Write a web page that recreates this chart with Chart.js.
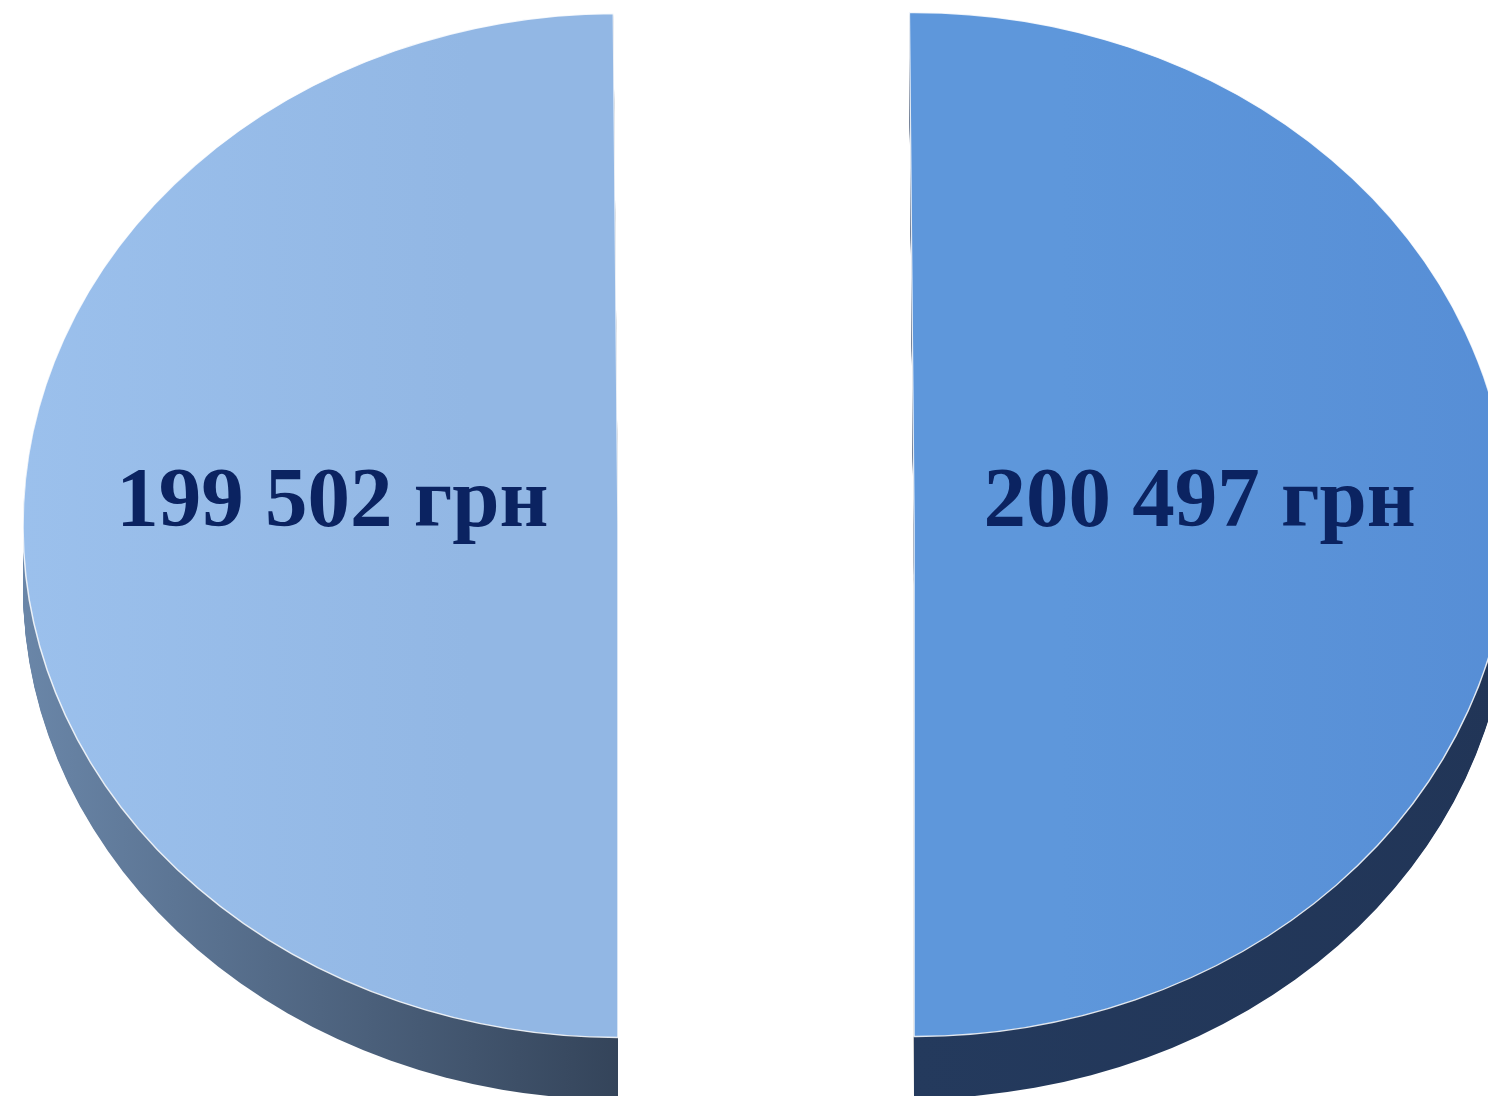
<!DOCTYPE html>
<html>
<head>
<meta charset="utf-8">
<script src="https://cdn.jsdelivr.net/npm/chart.js@4/dist/chart.umd.min.js"></script>
<style>
  html, body { margin: 0; padding: 0; background: #ffffff; overflow: hidden; }
  #pie { display: block; }
</style>
</head>
<body>
<canvas id="pie" width="1488" height="1096"></canvas>
<script>
// slice labels and values (left half first, drawn clockwise from the bottom)
const labels = ['199 502 грн', '200 497 грн'];
const values = [199502, 200497];

// look of the 3D pie
const topColors = [['#9ec3ef', '#92b7e4'], ['#5e97db', '#548bd4']];
const sideColors = [['#6a86a8', '#34445a'], ['#243a5d', '#213557']];
const RADIUS = 595;
const SHIFT = 148;          // explode distance in px
const SQUASH = 512 / 595;   // vertical squash of the pie
const DEPTH = 62;           // thickness of the side wall

function sliceGradient(chart, index, colors) {
  const area = chart.chartArea;
  if (!area) return colors[0];
  const cx = (area.left + area.right) / 2;
  const left = index === 0;
  const x0 = left ? cx - SHIFT - RADIUS : cx + SHIFT;
  const x1 = left ? cx - SHIFT : cx + SHIFT + RADIUS;
  const g = chart.ctx.createLinearGradient(x0, 0, x1, 0);
  g.addColorStop(0, colors[0]);
  g.addColorStop(1, colors[1]);
  return g;
}

function sliceCenter(arc) {
  const p = arc.getProps(['x', 'y', 'startAngle', 'endAngle', 'outerRadius']);
  const mid = (p.startAngle + p.endAngle) / 2;
  return {
    dx: Math.cos(mid) * SHIFT,
    dy: Math.sin(mid) * SHIFT,
    x: p.x + Math.cos(mid) * SHIFT,
    y: p.y + Math.sin(mid) * SHIFT,
    cy: p.y,
    r: p.outerRadius,
    start: p.startAngle,
    end: p.endAngle,
    mid: mid,
  };
}

const pie3d = {
  id: 'pie3d',
  beforeDatasetsDraw(chart) {
    const ctx = chart.ctx;
    const meta = chart.getDatasetMeta(0);
    const cx = meta.data[0].x;
    const cy = meta.data[0].y;
    ctx.save();
    ctx.translate(cx, cy);
    ctx.scale(1, SQUASH);
    ctx.translate(-cx, -cy);

    meta.data.forEach((arc, i) => {
      const s = sliceCenter(arc);

      // pull the slice out of the pie when the library draws it
      if (!arc._exploded) {
        const baseDraw = arc.draw;
        arc.draw = function (c) {
          const t = sliceCenter(this);
          c.save();
          c.translate(t.dx, t.dy);
          baseDraw.call(this, c);
          c.restore();
        };
        arc._exploded = true;
      }

      // side wall
      const left = Math.cos(s.mid) < 0;
      const x0 = left ? s.x - s.r : s.x;
      const x1 = left ? s.x : s.x + s.r;
      const g = ctx.createLinearGradient(x0, 0, x1, 0);
      g.addColorStop(0, sideColors[i][0]);
      g.addColorStop(1, sideColors[i][1]);
      ctx.fillStyle = g;
      for (let k = DEPTH; k >= 1; k--) {
        const oy = s.y + k / SQUASH;
        ctx.beginPath();
        ctx.moveTo(s.x, oy);
        ctx.arc(s.x, oy, s.r, s.start, s.end);
        ctx.closePath();
        ctx.fill();
      }
    });
  },
  afterDatasetsDraw(chart) {
    const ctx = chart.ctx;
    ctx.restore();

    const meta = chart.getDatasetMeta(0);
    ctx.save();
    ctx.font = 'bold 85px "Liberation Serif", "Times New Roman", serif';
    ctx.fillStyle = '#0b2361';
    ctx.textAlign = 'center';
    ctx.textBaseline = 'alphabetic';
    meta.data.forEach((arc, i) => {
      const s = sliceCenter(arc);
      const x = s.x + Math.cos(s.mid) * s.r * 0.48;
      ctx.fillText(labels[i], x, s.cy + 1);
    });
    ctx.restore();
  },
};

new Chart(document.getElementById('pie'), {
  type: 'pie',
  data: {
    labels: labels,
    datasets: [{
      data: values,
      backgroundColor: (c) => sliceGradient(c.chart, c.dataIndex, topColors[c.dataIndex]),
      borderColor: 'rgba(255,255,255,0.85)',
      borderWidth: 1.5,
      offset: 0,
      radius: RADIUS,
    }],
  },
  options: {
    responsive: false,
    animation: false,
    devicePixelRatio: 1,
    rotation: 180,
    layout: {
      padding: { left: 44, right: 0, top: 0, bottom: 46 },
    },
    plugins: {
      legend: { display: false },
      tooltip: { enabled: false },
    },
  },
  plugins: [pie3d],
});
</script>
</body>
</html>
